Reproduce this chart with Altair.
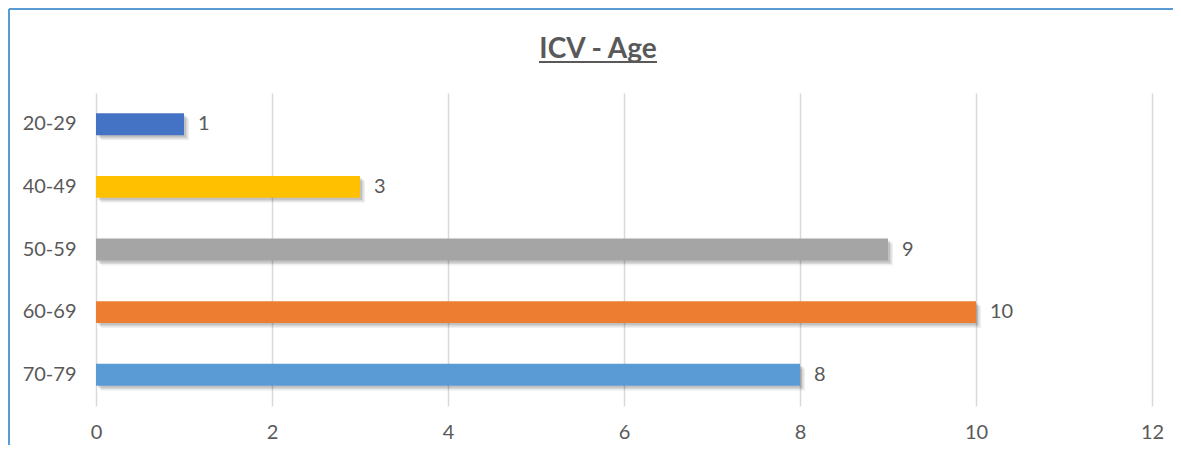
import altair as alt
import pandas as pd

ages = ["20-29", "40-49", "50-59", "60-69", "70-79"]
counts = [1, 3, 9, 10, 8]
colors = ["#4472C4", "#FFC000", "#A5A5A5", "#ED7D31", "#5B9BD5"]
x_ticks = [0, 2, 4, 6, 8, 10, 12]
title_text = "ICV - Age"

df = pd.DataFrame({"age": ages, "count": counts, "color": colors})

FONT = "Lato"
GRAY = "#595959"

y_enc = alt.Y("age:N", sort=ages,
              scale=alt.Scale(paddingInner=0.65, paddingOuter=0.325),
              axis=alt.Axis(title=None, domain=False, ticks=False, grid=False, labelPadding=20,
                            labelFont=FONT, labelFontSize=20, labelColor=GRAY))
x_enc = alt.X("count:Q", scale=alt.Scale(domain=[0, 12], nice=False),
              axis=alt.Axis(title=None, values=x_ticks, format="d", domain=False, ticks=False,
                            labelFlush=False, labelOverlap=False,
                            labelPadding=16, labelFont=FONT, labelFontSize=20,
                            labelColor=GRAY, gridColor="#D9D9D9", gridWidth=1.5))

base = alt.Chart(df)
y_plain = alt.Y("age:N", sort=ages)

shadow0 = base.mark_bar(color="#000000", opacity=0.06, xOffset=5, yOffset=5).encode(
    x=x_enc, y=y_enc)
shadow1 = base.mark_bar(color="#000000", opacity=0.10, xOffset=3.5, yOffset=3.5).encode(
    x="count:Q", y=y_plain)
shadow2 = base.mark_bar(color="#000000", opacity=0.10, xOffset=2, yOffset=2).encode(
    x="count:Q", y=y_plain)

bars = base.mark_bar().encode(
    x="count:Q",
    y=y_plain,
    color=alt.Color("color:N", scale=None),
)

labels = base.mark_text(align="left", baseline="middle", dx=14, font=FONT,
                        fontSize=20, color=GRAY).encode(
    x="count:Q", y=y_plain, text="count:Q")

title = alt.Chart(pd.DataFrame({"t": [title_text]})).mark_text(
    font=FONT, fontSize=28, fontWeight="bold", color=GRAY, align="center",
    baseline="middle").encode(x=alt.value(502), y=alt.value(-43), text="t:N")

underline = alt.Chart(pd.DataFrame({"t": [title_text]})).mark_rule(
    color=GRAY, strokeWidth=2).encode(
    x=alt.value(443), x2=alt.value(561), y=alt.value(-31))

frame_top = alt.Chart(pd.DataFrame({"t": [0]})).mark_rule(
    color="#5B9BD5", strokeWidth=2).encode(
    x=alt.value(-87), x2=alt.value(1090), y=alt.value(-84))
frame_left = alt.Chart(pd.DataFrame({"t": [0]})).mark_rule(
    color="#5B9BD5", strokeWidth=2).encode(
    x=alt.value(-87), y=alt.value(-84), y2=alt.value(365))

chart = alt.layer(shadow0, shadow1, shadow2, bars, labels, title, underline,
                  frame_top, frame_left).properties(
    width=1056, height=313,
    background="white",
    autosize=alt.AutoSizeParams(type="none"),
    padding={"left": 88, "top": 85, "right": 21, "bottom": 39},
).configure_view(strokeWidth=0, stroke="transparent")

chart.save("out.html", embed_options={"renderer": "svg", "actions": False})
